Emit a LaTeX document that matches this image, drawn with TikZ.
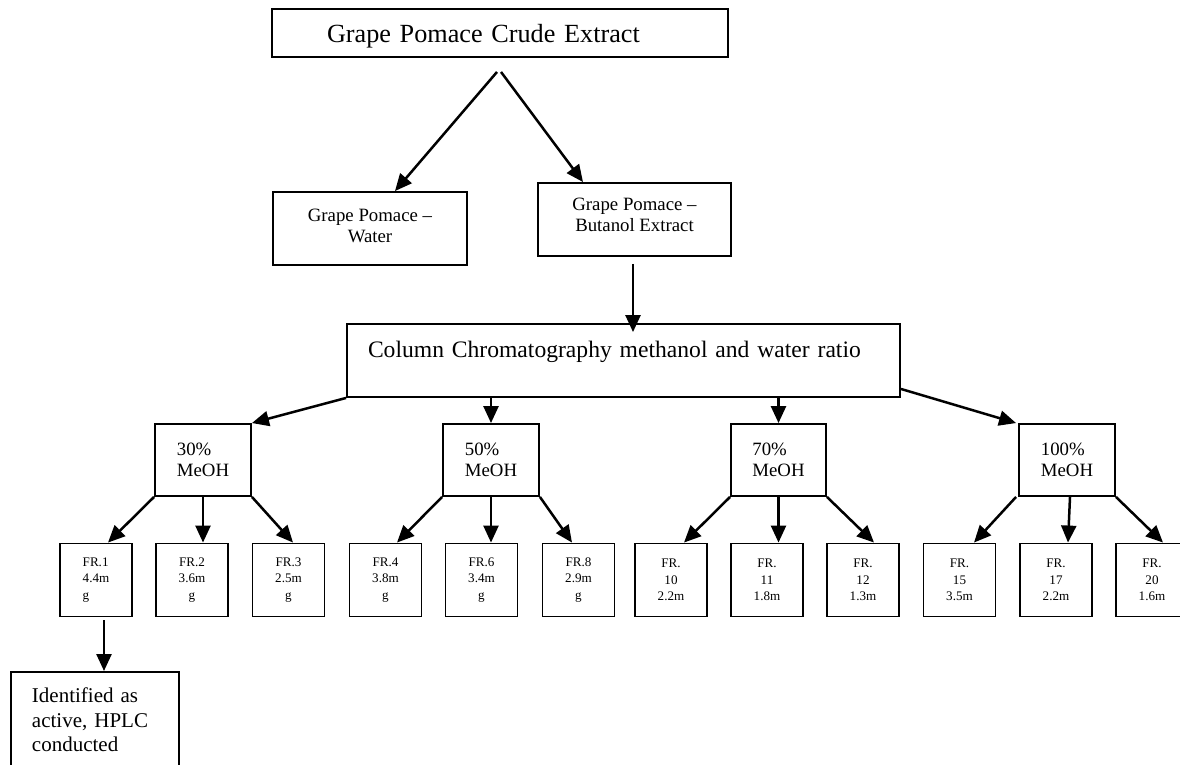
\documentclass[tikz,border=0pt]{standalone}
\usepackage{fontspec}
\setmainfont{Liberation Serif}
\usetikzlibrary{arrows.meta}
\tikzset{
  box/.style={draw, line width=1.9pt, inner sep=0pt, rectangle},
  arr/.style={line width=2.5pt, -{Triangle[length=17pt,width=15pt]}},
  midfont/.style={font=\fontsize{18.8}{21}\selectfont},
  frfont/.style={font=\fontsize{13.1}{16.3}\selectfont},
  frbox/.style={box, frfont, minimum width=72pt, minimum height=73pt, align=center},
  meoh/.style={box, midfont, minimum width=96pt, minimum height=72pt, align=left},
}
\begin{document}
\begin{tikzpicture}[x=1pt,y=-1pt]
\useasboundingbox (0,0) rectangle (1180,765);
\clip (0,0) rectangle (1180,765);

\node[box, font=\fontsize{26.2}{32}\selectfont, inner xsep=55pt, inner ysep=0pt, text width=346pt, align=left, text height=34pt, text depth=14pt] (top) at (500,33) {Grape Pomace Crude Extract};

\node[box, midfont, minimum width=194pt, minimum height=73pt, align=center, inner ysep=0pt] (water) at (370,228.5) {Grape Pomace --\\Water\\[-15pt]\mbox{}};
\node[box, midfont, minimum width=193pt, minimum height=73pt, align=center, inner ysep=0pt] (but) at (634.5,219.5) {Grape Pomace --\\Butanol Extract\\[-12pt]\mbox{}};

\node[box, font=\fontsize{23.6}{28}\selectfont, inner xsep=21pt, inner ysep=0pt, text width=511pt, align=left, text height=33pt, text depth=40pt] (col) at (623.5,360.5) {Column Chromatography methanol and water ratio};

\node[meoh] (m30) at (203,460) {30\%\\MeOH};
\node[meoh] (m50) at (491,460) {50\%\\MeOH};
\node[meoh, minimum width=95pt] (m70) at (778.5,460) {70\%\\MeOH};
\node[meoh] (m100) at (1067,460) {100\%\\MeOH};

\node[frbox, align=left] (fr1) at (96,580) {FR.1\\4.4m\\g};
\node[frbox] (fr2) at (192,580) {FR.2\\3.6m\\g};
\node[frbox] (fr3) at (288.5,580) {FR.3\\2.5m\\g};
\node[frbox] (fr4) at (385.5,580) {FR.4\\3.8m\\g};
\node[frbox] (fr6) at (481.5,580) {FR.6\\3.4m\\g};
\node[frbox] (fr8) at (578.5,580) {FR.8\\2.9m\\g};
\node[frbox] (fr10) at (671,580) {FR.\\10\\2.2m};
\node[frbox] (fr11) at (767,580) {FR.\\11\\1.8m};
\node[frbox] (fr12) at (863,580) {FR.\\12\\1.3m};
\node[frbox] (fr15) at (959.5,580) {FR.\\15\\3.5m};
\node[frbox] (fr17) at (1056,580) {FR.\\17\\2.2m};
\node[frbox] (fr20) at (1152,580) {FR.\\20\\1.6m};

\node[box, anchor=north west, font=\fontsize{21}{24.5}\selectfont, inner xsep=21pt, inner ysep=16pt, text width=126pt, align=left] (ident) at (10,671) {Identified as\\active, HPLC\\conducted\\[30pt]\mbox{}};

% connectors
\draw[arr] ([xshift=-3pt,yshift=-14pt]top.south) -- ([xshift=25pt]water.north);
\draw[arr] ([xshift=1pt,yshift=-14pt]top.south) -- ([xshift=-51.5pt]but.north);
\draw[arr] ([xshift=-1.5pt,yshift=-7pt]but.south) -- ([xshift=-1.5pt,yshift=-9pt]but.south |- col.north);

\draw[arr] (col.south west) -- (m30.north east);
\draw[arr] (m50.north |- col.south) -- (m50.north);
\draw[arr] (m70.north |- col.south) -- (m70.north);
\draw[arr] ([yshift=9pt]col.south east) -- ([xshift=-2pt]m100.north west);

\draw[arr] (m30.south west) -- ([xshift=12pt]fr1.north);
\draw[arr] (m30.south) -- (m30.south |- fr2.north);
\draw[arr] (m30.south east) -- ([xshift=4.5pt]fr3.north);

\draw[arr] (m50.south west) -- ([xshift=11.5pt]fr4.north);
\draw[arr] (m50.south) -- (m50.south |- fr6.north);
\draw[arr] (m50.south east) -- ([xshift=-6.5pt]fr8.north);

\draw[arr] (m70.south west) -- ([xshift=13pt]fr10.north);
\draw[arr] (m70.south) -- (m70.south |- fr11.north);
\draw[arr] (m70.south east) -- ([xshift=11pt]fr12.north);

\draw[arr] ([xshift=-2pt]m100.south west) -- ([xshift=14.5pt]fr15.north);
\draw[arr] ([xshift=3pt]m100.south) -- ([xshift=12pt]fr17.north);
\draw[arr] (m100.south east) -- ([xshift=11pt]fr20.north);

\draw[arr] ([xshift=8pt,yshift=-3pt]fr1.south) -- ([xshift=8pt]fr1.south |- ident.north);
\end{tikzpicture}
\end{document}
